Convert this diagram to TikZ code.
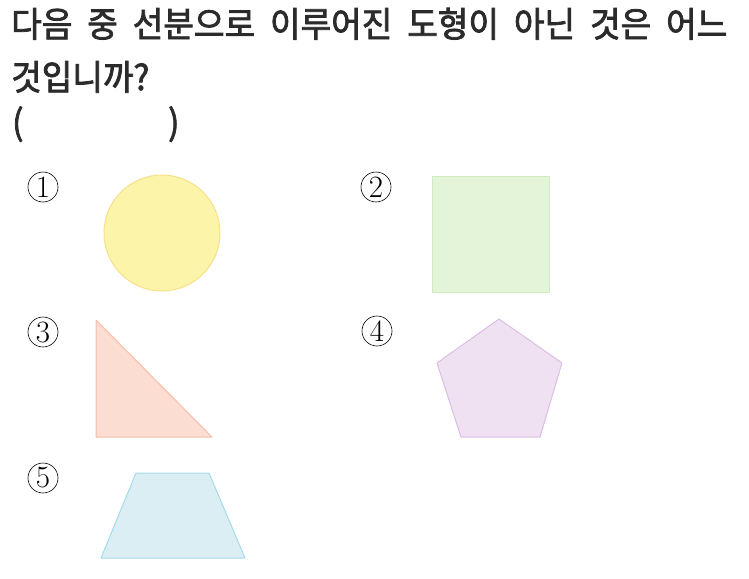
\documentclass[tikz,border=0pt]{standalone}
\usepackage{fontspec}
\newfontfamily\kr{Noto Sans CJK KR}[FakeStretch=0.95,WordSpace=2,FakeBold=2.2]
\usepackage{tikz}

\definecolor{qtext}{HTML}{2B2B2B}
\definecolor{yelfill}{HTML}{FCF4A8}
\definecolor{yelline}{HTML}{F7E08C}
\definecolor{grnfill}{HTML}{E3F4D9}
\definecolor{grnline}{HTML}{D0EBBE}
\definecolor{redfill}{HTML}{FBDED1}
\definecolor{redline}{HTML}{F6BDA8}
\definecolor{viofill}{HTML}{EFE1F2}
\definecolor{violine}{HTML}{DCBDE3}
\definecolor{blufill}{HTML}{DAEEF4}
\definecolor{bluline}{HTML}{A6DBEA}

\begin{document}
\begin{tikzpicture}[x=1pt,y=-1pt,
        question/.style={anchor=base west,inner sep=0pt,text=qtext,
            font=\kr\fontsize{35}{40}\selectfont},
        num/.style={circle,draw=black,line width=0.6pt,minimum size=30pt,inner sep=0pt,
            font=\fontsize{31}{31}\selectfont},
        figure/.style={line width=1pt,line join=round}]
            \useasboundingbox (0,0) rectangle (749,578);
            \node[question] (line1) at (11,37) {다음 중 선분으로 이루어진 도형이 아닌 것은 어느};
            \node[question] (line2) at (11,90) {것입니까?};
            \node[question] (lpar) at (12,135) {(};
            \node[question] (rpar) at (168,135) {)};
            \foreach \n/\x/\y in {1/43/187, 2/376/187, 3/43/332, 4/377/331, 5/43/478}
                \node[num] (num\n) at (\x,\y) {\n};
            \draw[figure,draw=yelline,fill=yelfill] (162,233) circle (58);
            \draw[figure,draw=grnline,fill=grnfill] (432,176) rectangle (549,292);
            \draw[figure,draw=redline,fill=redfill] (96,320) -- (96,437) -- (212,437) -- cycle;
            \draw[figure,draw=violine,fill=viofill] (499,319) -- (562,363) -- (540,437) -- (461,437) -- (437,363) -- cycle;
            \draw[figure,draw=bluline,fill=blufill] (136,473) -- (209,473) -- (245,558) -- (101,558) -- cycle;
        \end{tikzpicture}
\end{document}
